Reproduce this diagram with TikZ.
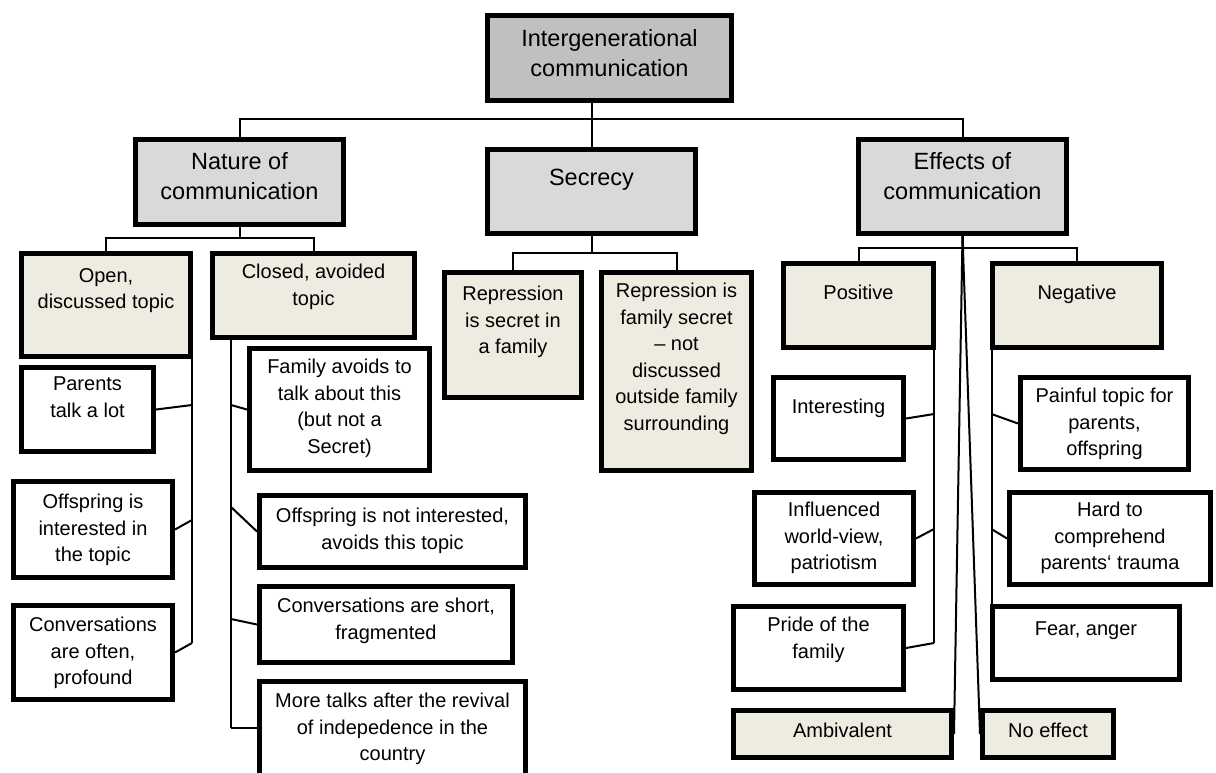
\documentclass[tikz,border=0pt]{standalone}
\usepackage{fontspec}
\setmainfont{Liberation Sans}
\usetikzlibrary{calc}
\definecolor{rootgray}{RGB}{192,192,192}
\definecolor{midgray}{RGB}{217,217,217}
\definecolor{beige}{RGB}{238,236,225}
\tikzset{
  box/.style={draw=black, line width=5pt, rectangle, inner sep=0pt},
  lvlA/.style={box, fill=rootgray},
  lvlB/.style={box, fill=midgray},
  lvlC/.style={box, fill=beige},
  leaf/.style={box, fill=white},
  bigtxt/.style={anchor=north, align=center, inner sep=0pt,
    font=\fontsize{23.5}{30}\selectfont, execute at begin node={\rule{0pt}{18.8pt}}},
  smalltxt/.style={anchor=north, align=center, inner sep=0pt,
    font=\fontsize{20}{26.5}\selectfont, execute at begin node={\rule{0pt}{16pt}}},
  conn/.style={draw=black, line width=2pt}
}
\begin{document}
\begin{tikzpicture}[x=1pt, y=-1pt]
\path[use as bounding box, fill=white] (0,0) rectangle (1216,772);

% ---- boxes ----
\node[lvlA, minimum width=244pt, minimum height=85pt] (root) at (609.5,58) {};
\node[lvlB, minimum width=208pt, minimum height=85pt] (nature) at (239.5,182) {};
\node[lvlB, minimum width=208pt, minimum height=84pt] (secrecy) at (591.5,191.5) {};
\node[lvlB, minimum width=208pt, minimum height=94pt] (effects) at (962.5,186.5) {};

\node[lvlC, minimum width=169pt, minimum height=103pt] (open) at (106,305) {};
\node[lvlC, minimum width=202pt, minimum height=84pt] (closed) at (313.5,295.5) {};
\node[lvlC, minimum width=137pt, minimum height=125pt] (repsec) at (513,335) {};
\node[lvlC, minimum width=150pt, minimum height=198pt] (repfam) at (676.5,371.5) {};
\node[lvlC, minimum width=150pt, minimum height=84pt] (positive) at (858.5,305.5) {};
\node[lvlC, minimum width=169pt, minimum height=84pt] (negative) at (1077,305.5) {};

\node[leaf, minimum width=132pt, minimum height=84pt] (parents) at (87.5,409.5) {};
\node[leaf, minimum width=159pt, minimum height=96pt] (offint) at (93,529.5) {};
\node[leaf, minimum width=159pt, minimum height=94pt] (convoft) at (93,652.5) {};

\node[leaf, minimum width=180pt, minimum height=122pt] (famav) at (339.5,409.5) {};
\node[leaf, minimum width=266pt, minimum height=72pt] (offnot) at (392.5,531.5) {};
\node[leaf, minimum width=253pt, minimum height=76pt] (convshort) at (386,624.5) {};
\node[leaf, minimum width=266pt, minimum height=106pt] (moretalks) at (392.5,734.5) {};

\node[leaf, minimum width=130pt, minimum height=82pt] (interesting) at (838.5,418.5) {};
\node[leaf, minimum width=159pt, minimum height=92pt] (influenced) at (834,538.5) {};
\node[leaf, minimum width=170pt, minimum height=83pt] (pride) at (818.5,648) {};
\node[lvlC, minimum width=218pt, minimum height=47pt] (ambivalent) at (842.5,734) {};
\node[lvlC, minimum width=131pt, minimum height=47pt] (noeffect) at (1048,734) {};

\node[leaf, minimum width=168pt, minimum height=92pt] (painful) at (1104.5,423.5) {};
\node[leaf, minimum width=201pt, minimum height=92pt] (hard) at (1110,538.5) {};
\node[leaf, minimum width=187pt, minimum height=73pt] (fear) at (1086,643) {};

% ---- texts ----
\node[bigtxt] (root-t) at (609.5,29.4) {Intergenerational\\communication};
\node[bigtxt] (nature-t) at (239.5,152.4) {Nature of\\communication};
\node[bigtxt] (secrecy-t) at (591.5,166.4) {Secrecy};
\node[bigtxt] (effects-t) at (962.5,152.4) {Effects of\\communication};

\node[smalltxt] (open-t) at (106,268) {Open,\\discussed topic};
\node[smalltxt] (closed-t) at (313.5,264) {Closed, avoided\\topic};
\node[smalltxt] (repsec-t) at (513,286) {Repression\\is secret in\\a family};
\node[smalltxt] (repfam-t) at (676.5,283) {Repression is\\family secret\\\textendash{} not\\discussed\\outside family\\surrounding};
\node[smalltxt] (positive-t) at (858.5,283) {Positive};
\node[smalltxt] (negative-t) at (1077,283) {Negative};

\node[smalltxt] (parents-t) at (87.5,377) {Parents\\talk a lot};
\node[smalltxt] (offint-t) at (93,494) {Offspring is\\interested in\\the topic};
\node[smalltxt] (convoft-t) at (93,617) {Conversations\\are often,\\profound};

\node[smalltxt] (famav-t) at (339.5,359) {Family avoids to\\talk about this\\(but not a\\Secret)};
\node[smalltxt] (offnot-t) at (392.5,508) {Offspring is not interested,\\avoids this topic};
\node[smalltxt] (convshort-t) at (386,598) {Conversations are short,\\fragmented};
\node[smalltxt] (moretalks-t) at (392.5,693) {More talks after the revival\\of indepedence in the\\country};

\node[smalltxt] (interesting-t) at (838.5,397) {Interesting};
\node[smalltxt] (influenced-t) at (834,502) {Influenced\\world-view,\\patriotism};
\node[smalltxt] (pride-t) at (818.5,617) {Pride of the\\family};
\node[smalltxt] (ambivalent-t) at (842.5,721) {Ambivalent};
\node[smalltxt] (noeffect-t) at (1048,721) {No effect};

\node[smalltxt] (painful-t) at (1104.5,388) {Painful topic for\\parents,\\offspring};
\node[smalltxt] (hard-t) at (1110,502) {Hard to\\comprehend\\parents‘ trauma};
\node[smalltxt] (fear-t) at (1086,619) {Fear, anger};

% ---- connector coordinates ----
\coordinate (hbar) at (0,119);
\coordinate (ob1) at (192,359);
\coordinate (obP) at (192,405);
\coordinate (obO) at (192,520);
\coordinate (obC) at (192,643);
\coordinate (cb1) at (231,340);
\coordinate (cbF) at (231,405);
\coordinate (cbO) at (231,507);
\coordinate (cbS) at (231,619);
\coordinate (cbM) at (231,728);
\coordinate (pb1) at (934,350);
\coordinate (pbI) at (934,414);
\coordinate (pbF) at (934,529);
\coordinate (pbP) at (934,643);
\coordinate (nb1) at (991.5,350);
\coordinate (nbP) at (991.5,414);
\coordinate (nbH) at (991.5,529);
\coordinate (nb2) at (991.5,604);

% ---- connectors ----
\draw[conn] (secrecy.north |- root.south) -- (secrecy.north);
\draw[conn] (nature.north) |- (hbar -| secrecy.north) -| (effects.north);

\draw[conn] (nature.south) -- ($(nature.south)+(0,11)$);
\draw[conn] (open.north) |- ($(nature.south)+(0,11)$) -| (closed.north);

\draw[conn] (secrecy.south) -- ($(secrecy.south)+(0,17)$);
\draw[conn] (repsec.north) |- ($(secrecy.south)+(0,17)$) -| (repfam.north);

\draw[conn] (effects.south) -- ($(effects.south)+(0,12)$);
\draw[conn] (positive.north) |- ($(effects.south)+(0,12)$) -| (negative.north);
\draw[conn] (effects.south) -- (ambivalent.east);
\draw[conn] (effects.south) -- (noeffect.west);

\draw[conn] (ob1) -- (obC);
\draw[conn] (parents.east) -- (obP);
\draw[conn] (offint.east) -- (obO);
\draw[conn] (convoft.east) -- (obC);

\draw[conn] (cb1) -- (cbM);
\draw[conn] (famav.west) -- (cbF);
\draw[conn] (offnot.west) -- (cbO);
\draw[conn] (convshort.west) -- (cbS);
\draw[conn] (cbM) -- (cbM -| moretalks.west);

\draw[conn] (pb1) -- (pbP);
\draw[conn] (interesting.east) -- (pbI);
\draw[conn] (influenced.east) -- (pbF);
\draw[conn] (pride.east) -- (pbP);

\draw[conn] (nb1) -- (nb2);
\draw[conn] (nbP) -- (painful.west);
\draw[conn] (nbH) -- (hard.west);
\end{tikzpicture}
\end{document}
